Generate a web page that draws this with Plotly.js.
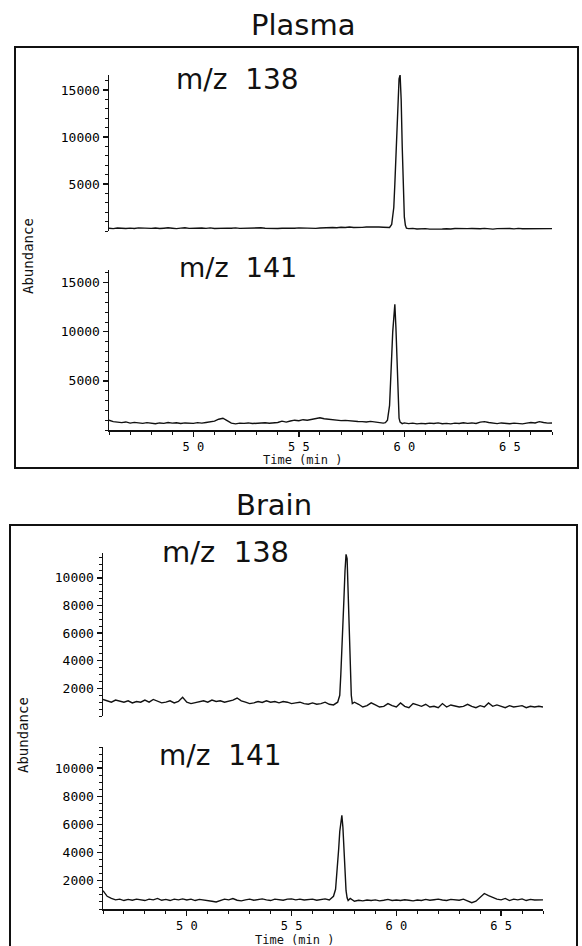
<!DOCTYPE html>
<html>
<head>
<meta charset="utf-8">
<script src="https://cdn.plot.ly/plotly-3.0.1.min.js"></script>
<style>html,body{margin:0;padding:0;background:#fff;}#chart{width:582px;height:946px;}</style>
</head>
<body>
<div id="chart"></div>
<script>
// ---- data ----
const panelTitles = ['Plasma', 'Brain'];
const ionLabels = ['m/z\u00a0\u00a0138', 'm/z\u00a0\u00a0141'];
const axisTitleY = 'Abundance';
const axisTitleX = 'Time (min )';

const timeGrid = [46.0,46.2,46.4,46.6,46.8,47.0,47.2,47.4,47.6,47.8,48.0,48.2,48.4,48.6,48.8,49.0,49.2,49.4,49.6,49.8,
  50.0,50.2,50.4,50.6,50.8,51.0,51.2,51.4,51.6,51.8,52.0,52.2,52.4,52.6,52.8,53.0,53.2,53.4,53.6,53.8,
  54.0,54.2,54.4,54.6,54.8,55.0,55.2,55.4,55.6,55.8,56.0,56.2,56.4,56.6,56.8,57.0,57.2,57.4,57.6,57.8,
  58.0,58.2,58.4,58.6,58.8,59.0,59.2,59.4,59.6,59.8,60.0,60.2,60.4,60.6,60.8,61.0,61.2,61.4,61.6,61.8,
  62.0,62.2,62.4,62.6,62.8,63.0,63.2,63.4,63.6,63.8,64.0,64.2,64.4,64.6,64.8,65.0,65.2,65.4,65.6,65.8,
  66.0,66.2,66.4,66.6,66.8,67.0];

const plasma138Base = [300,250,320,280,260, 310,270,330,290,250, 280,320,260,300,340, 290,250,310,350,280,
  300,260,320,280,330, 270,300,250,310,290, 330,280,300,260,320, 290,340,300,270,310,
  260,300,280,320,290, 330,300,350,310,280, 320,360,330,380,340, 400,370,420,380,350,
  390,430,400,450,420, 400,380,450,500,600, 800,250,280,220,260, 250,200,230,270,220,
  240,210,260,230,200, 250,270,220,240,280, 230,200,250,270,220, 260,230,280,240,250,
  220,270,240,300,260, 250];
const plasma138PeakTime = [59.3,59.4,59.5,59.55,59.6,59.65,59.7,59.75,59.8,59.85,59.9,59.95,60.0,60.05,60.1];
const plasma138PeakVal  = [380,700,2500,5000,8000,11500,14500,16200,16600,14000,9000,4500,1500,600,300];

const plasma141Base = [1000,850,800,750,820, 700,780,720,680,750, 700,640,720,680,760, 700,740,660,720,700,
  680,750,700,760,820, 900,1100,1200,950,700, 620,700,680,720,660, 700,680,740,690,720,
  760,900,800,920,1000, 950,1050,1000,1100,1150, 1250,1150,1100,1050,1000, 950,980,920,900,870,
  850,820,880,800,760, 700,740,800,900,950, 720,650,700,620,680, 640,700,660,720,640,
  680,620,700,660,740, 680,720,660,800,850, 760,700,650,720,680, 640,700,680,620,700,
  760,720,850,760,700, 720];
const plasma141PeakTime = [59.1,59.2,59.3,59.35,59.4,59.45,59.5,59.55,59.6,59.65,59.7,59.75,59.8,59.9];
const plasma141PeakVal  = [750,1000,2500,4500,7500,10000,12000,12800,10500,6500,3000,1200,800,650];

const brain138Base = [1200,1100,1000,1150,1050, 1000,1100,950,1050,1000, 1150,1000,1200,1050,950, 1000,1100,950,1050,1350,
  1000,900,950,1050,1100, 1000,1150,1050,1100,1000, 1050,1150,1300,1100,1000, 900,950,1050,980,1100,
  1000,1050,950,1050,1000, 900,950,1000,900,850, 950,850,900,1000,850, 800,900,1000,1000,1000,
  1000,850,650,750,950, 800,650,700,900,750, 650,950,700,600,900, 800,700,850,650,700,
  600,900,650,800,700, 650,700,850,700,600, 750,650,950,700,800, 700,600,750,650,700,
  750,600,700,650,700, 650];
const brain138PeakTime = [57.2,57.3,57.35,57.4,57.45,57.5,57.55,57.6,57.65,57.7,57.75,57.8,57.85,57.9,58.0];
const brain138PeakVal  = [1000,1500,3000,4500,6500,8500,10500,11700,11400,9000,6000,3000,1500,900,1000];

const brain141Base = [1300,900,750,650,700, 600,680,620,700,640, 600,700,650,750,620, 680,600,700,650,720,
  640,700,600,680,650, 600,550,500,620,700, 650,740,620,580,650, 700,620,680,720,650,
  600,700,650,620,700, 720,650,700,640,680, 700,620,680,720,640, 700,800,700,600,500,
  550,620,580,640,600, 650,580,620,680,600, 640,600,660,620,580, 640,600,680,620,660,
  700,640,600,680,650, 620,700,600,450,550, 800,1100,950,800,700, 650,750,600,700,650,
  720,600,680,640,620, 650];
const brain141PeakTime = [57.0,57.1,57.15,57.2,57.25,57.3,57.35,57.4,57.45,57.5,57.55,57.6,57.65,57.7,57.8];
const brain141PeakVal  = [900,1400,2200,3200,4300,5500,6300,6650,5800,4000,2400,1300,800,600,750];

const timeTickVals = [50, 55, 60, 65];
const timeTickText = ['5 0', '5 5', '6 0', '6 5'];
const plasmaTickVals = [5000, 10000, 15000];
const plasmaTickText = ['5000', '10000', '15000'];
const brainTickVals = [2000, 4000, 6000, 8000, 10000];
const brainTickText = ['2000', '4000', '6000', '8000', '10000'];

// ---- build ----
function merge(baseT, baseV, pkT, pkV) {
  const lo = pkT[0], hi = pkT[pkT.length - 1];
  const pts = [];
  baseT.forEach((t, i) => { if (t < lo || t > hi) pts.push([t, baseV[i]]); });
  pkT.forEach((t, i) => pts.push([t, pkV[i]]));
  pts.sort((a, b) => a[0] - b[0]);
  return { x: pts.map(p => p[0]), y: pts.map(p => p[1]) };
}
function trace(d, xa, ya) {
  return { x: d.x, y: d.y, xaxis: xa, yaxis: ya, type: 'scatter', mode: 'lines',
    line: { color: '#111', width: 1.4 }, hoverinfo: 'skip', showlegend: false };
}
const data = [
  trace(merge(timeGrid, plasma138Base, plasma138PeakTime, plasma138PeakVal), 'x', 'y'),
  trace(merge(timeGrid, plasma141Base, plasma141PeakTime, plasma141PeakVal), 'x2', 'y2'),
  trace(merge(timeGrid, brain138Base, brain138PeakTime, brain138PeakVal), 'x3', 'y3'),
  trace(merge(timeGrid, brain141Base, brain141PeakTime, brain141PeakVal), 'x4', 'y4')
];

const W = 582, H = 946;
const px = v => v / W, py = v => 1 - v / H;
const xTickFont = { family: 'DejaVu Sans Mono', size: 12, color: '#000' };
const yTickFont = { family: 'DejaVu Sans Mono', size: 13, color: '#000' };

function xAxis(dom, anchor, visible) {
  return { domain: dom, anchor: anchor, range: [46, 67], visible: visible,
    showline: true, linecolor: '#111', linewidth: 1.5, showgrid: false, zeroline: false,
    tickmode: 'array', tickvals: timeTickVals, ticktext: timeTickText,
    ticks: 'outside', ticklen: 5, tickwidth: 1.3, tickcolor: '#111', tickfont: xTickFont,
    minor: { tickmode: 'linear', tick0: 0, dtick: 1, ticks: 'outside', ticklen: 3, tickwidth: 1, tickcolor: '#111', showgrid: false } };
}
function yAxis(dom, anchor, range, tv, tt, minorStep) {
  return { domain: dom, anchor: anchor, range: range,
    showline: true, linecolor: '#111', linewidth: 1.5, showgrid: false, zeroline: false,
    tickmode: 'array', tickvals: tv, ticktext: tt,
    ticks: 'outside', ticklen: 5, tickwidth: 1.3, tickcolor: '#111', tickfont: yTickFont,
    minor: { tickmode: 'linear', tick0: 0, dtick: minorStep, ticks: 'outside', ticklen: 3, tickwidth: 1, tickcolor: '#111', showgrid: false } };
}

const plasmaX = [px(109), px(552)];
const brainX = [px(103), px(543)];

function ann(text, x, y, size, family, angle) {
  return { text: text, x: px(x), y: py(y), xref: 'paper', yref: 'paper', xanchor: 'center', yanchor: 'middle',
    showarrow: false, textangle: angle || 0, font: { family: family, size: size, color: '#111' } };
}

const layout = {
  width: W, height: H, margin: { l: 0, r: 0, t: 0, b: 0 },
  paper_bgcolor: '#fff', plot_bgcolor: 'rgba(0,0,0,0)', showlegend: false,
  xaxis: xAxis(plasmaX, 'y', false),
  yaxis: yAxis([py(231), py(75)], 'x', [0, 16600], plasmaTickVals, plasmaTickText, 1000),
  xaxis2: xAxis(plasmaX, 'y2', true),
  yaxis2: yAxis([py(430), py(270)], 'x2', [0, 16300], plasmaTickVals, plasmaTickText, 1000),
  xaxis3: xAxis(brainX, 'y3', false),
  yaxis3: yAxis([py(716), py(553)], 'x3', [0, 11800], brainTickVals, brainTickText, 500),
  xaxis4: xAxis(brainX, 'y4', true),
  yaxis4: yAxis([py(909), py(747)], 'x4', [0, 11500], brainTickVals, brainTickText, 500),
  shapes: [
    { type: 'rect', xref: 'paper', yref: 'paper', x0: px(15), x1: px(578), y0: py(468), y1: py(47), line: { color: '#111', width: 2 } },
    { type: 'rect', xref: 'paper', yref: 'paper', x0: px(10), x1: px(577), y0: py(952), y1: py(525), line: { color: '#111', width: 2 } }
  ],
  annotations: [
    ann(panelTitles[0], 303, 25, 29, 'DejaVu Sans'),
    ann(panelTitles[1], 274, 505, 29, 'DejaVu Sans'),
    ann(ionLabels[0], 237, 80, 28, 'DejaVu Sans'),
    ann(ionLabels[1], 238, 267, 27, 'DejaVu Sans'),
    ann(ionLabels[0], 225, 552, 29, 'DejaVu Sans'),
    ann(ionLabels[1], 220, 755, 28, 'DejaVu Sans'),
    ann(axisTitleY, 28, 256, 14, 'DejaVu Sans Mono', -90),
    ann(axisTitleY, 23, 735, 14, 'DejaVu Sans Mono', -90),
    ann(axisTitleX, 302, 460, 12, 'DejaVu Sans Mono'),
    ann(axisTitleX, 294, 940, 12, 'DejaVu Sans Mono')
  ]
};

Plotly.newPlot('chart', data, layout, { staticPlot: true, displayModeBar: false });
</script>
</body>
</html>
